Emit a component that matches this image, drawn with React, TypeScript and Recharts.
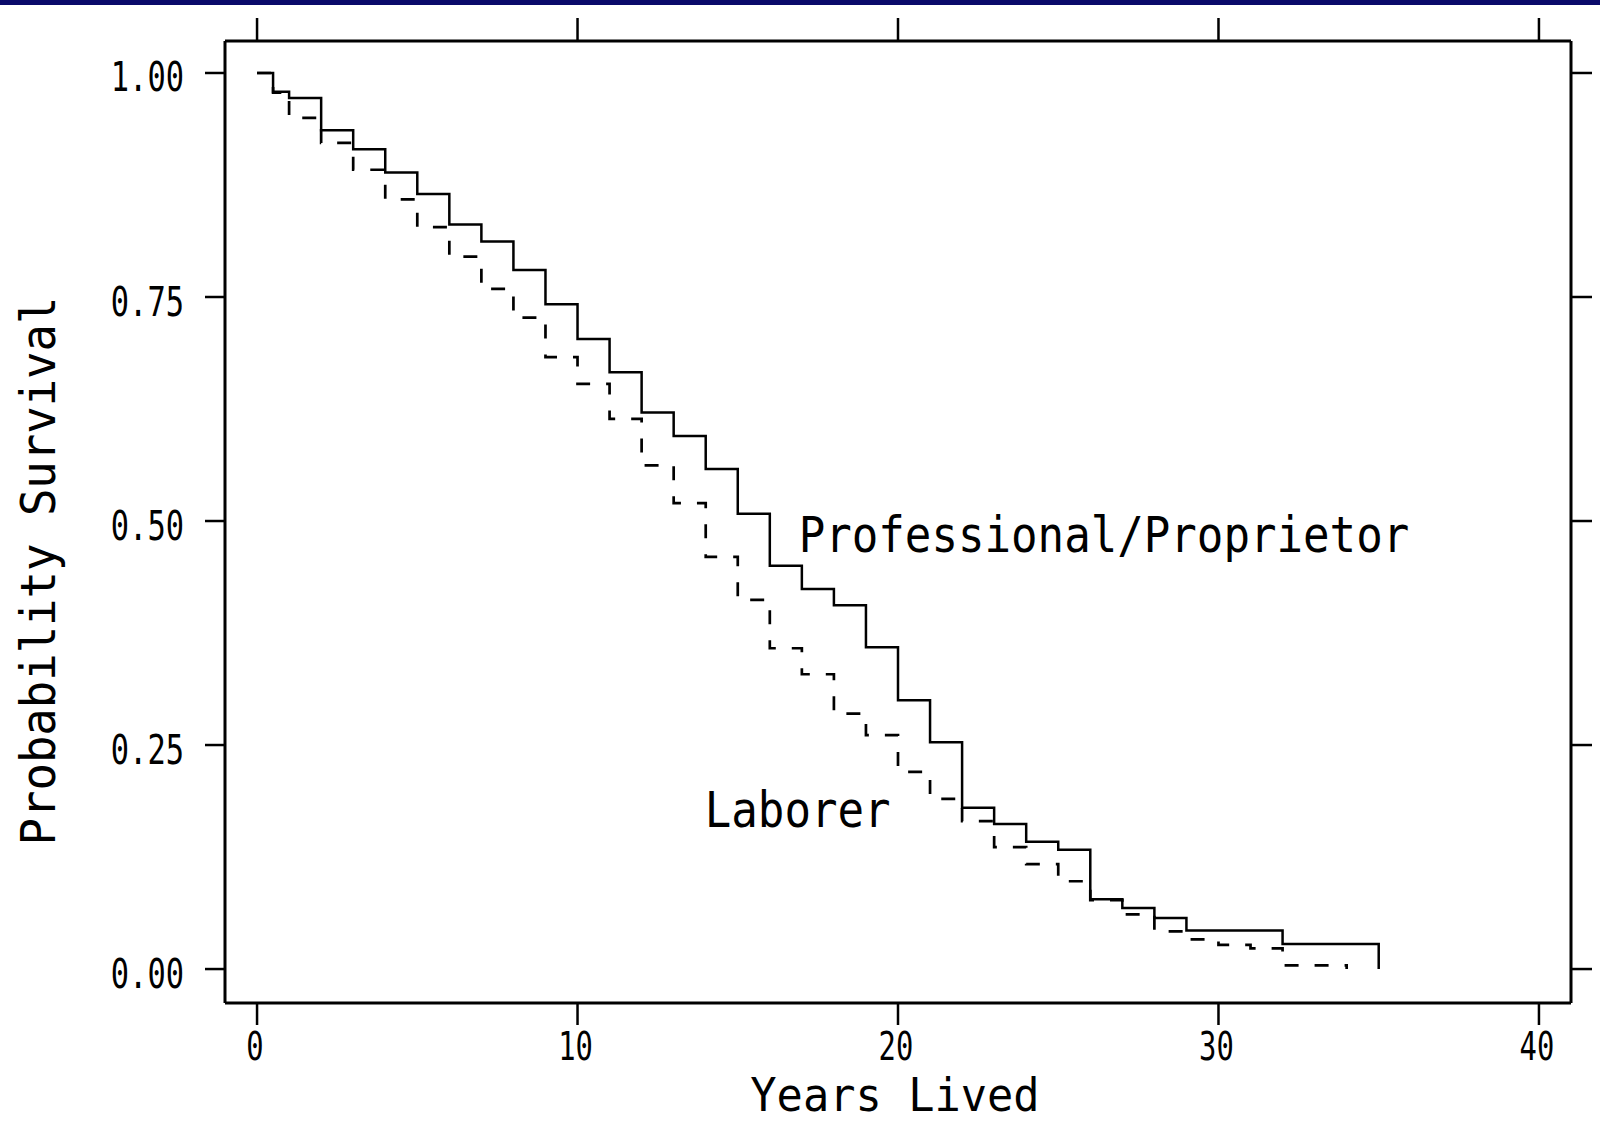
import React from 'react';
import { LineChart, Line, XAxis, YAxis, ReferenceDot } from 'recharts';

// Kaplan-Meier style survival estimates
const professionalYears = [0, 0.5, 1, 2, 3, 4, 5, 6, 7, 8, 9, 10, 11, 12, 13, 14, 15, 16, 17, 18, 19, 20, 21, 22, 23, 24, 25, 26, 27, 28, 29, 32, 35];
const professionalSurv = [1.0, 0.979, 0.972, 0.936, 0.915, 0.889, 0.865, 0.831, 0.812, 0.78, 0.742, 0.703, 0.666, 0.621, 0.595, 0.558, 0.508, 0.45, 0.424, 0.406, 0.359, 0.3, 0.253, 0.18, 0.162, 0.142, 0.133, 0.078, 0.068, 0.057, 0.043, 0.028, 0.0];

const laborerYears = [0, 0.5, 1, 2, 3, 4, 5, 6, 7, 8, 9, 10, 11, 12, 13, 14, 15, 16, 17, 18, 19, 20, 21, 22, 23, 24, 25, 26, 27, 28, 29, 30, 31, 32, 34];
const laborerSurv = [1.0, 0.978, 0.95, 0.922, 0.892, 0.859, 0.828, 0.795, 0.759, 0.727, 0.683, 0.653, 0.614, 0.562, 0.52, 0.46, 0.412, 0.358, 0.329, 0.285, 0.261, 0.22, 0.19, 0.165, 0.136, 0.117, 0.098, 0.077, 0.061, 0.042, 0.033, 0.027, 0.023, 0.004, 0.0];

const xTicks = [0, 10, 20, 30, 40];
const yTicks = [0, 0.25, 0.5, 0.75, 1.0];

const xTitle = 'Years Lived';
const yTitle = 'Probability Survival';
const professionalLabel = 'Professional/Proprietor';
const laborerLabel = 'Laborer';
const professionalLabelPos = { x: 16.9, y: 0.465 };
const laborerLabelPos = { x: 13.97, y: 0.158 };

const professionalData = professionalYears.map((x, i) => ({ x, y: professionalSurv[i] }));
const laborerData = laborerYears.map((x, i) => ({ x, y: laborerSurv[i] }));

const FONT = 'DejaVu Sans Mono';

const LeftTick = (props: any) => {
  const { x, y, payload } = props;
  return (
    <g transform={`translate(${x - 21},${y + 18.5}) scale(0.76,1)`}>
      <text x={0} y={0} textAnchor="end" fontFamily={FONT} fontSize={40} fill="#000">
        {Number(payload.value).toFixed(2)}
      </text>
    </g>
  );
};

const BottomTick = (props: any) => {
  const { x, y, payload } = props;
  return (
    <g transform={`translate(${x - 2},${y + 35}) scale(0.74,1)`}>
      <text x={0} y={0} textAnchor="middle" fontFamily={FONT} fontSize={39} fill="#000">
        {String(payload.value)}
      </text>
    </g>
  );
};

const NoTick = () => <g />;

const makeAnnot = (label: string) => (p: any) => (
  <g transform={`translate(${p.cx},${p.cy}) scale(0.9,1)`}>
    <text x={0} y={0} textAnchor="start" fontFamily={FONT} fontSize={49} fill="#000">
      {label}
    </text>
  </g>
);

const axisLine = { stroke: '#000', strokeWidth: 3 };
const tickLine = { stroke: '#000', strokeWidth: 2.5 };

export default function App() {
  return (
    <div style={{ position: 'absolute', left: 0, top: 0, width: 1600, height: 1123, overflow: 'hidden', background: '#fff' }}>
      <div style={{ position: 'absolute', left: 0, top: 0, width: 1600, height: 5, background: '#0a0a6a' }} />
      <LineChart width={1600} height={1123} margin={{ top: 0, right: 0, bottom: 0, left: 0 }}>
        <XAxis
          xAxisId="b"
          type="number"
          dataKey="x"
          orientation="bottom"
          domain={[-1, 41]}
          ticks={xTicks}
          allowDataOverflow
          height={120}
          axisLine={axisLine}
          tickLine={tickLine}
          tickSize={22}
          tickMargin={0}
          tick={<BottomTick />}
          interval={0}
        />
        <XAxis
          xAxisId="t"
          type="number"
          dataKey="x"
          orientation="top"
          domain={[-1, 41]}
          ticks={xTicks}
          allowDataOverflow
          height={41}
          axisLine={axisLine}
          tickLine={tickLine}
          tickSize={23}
          tickMargin={0}
          tick={<NoTick />}
          interval={0}
        />
        <YAxis
          yAxisId="l"
          type="number"
          orientation="left"
          domain={[-0.0379, 1.0357]}
          ticks={yTicks}
          allowDataOverflow
          width={225}
          axisLine={axisLine}
          tickLine={tickLine}
          tickSize={20}
          tickMargin={0}
          tick={<LeftTick />}
          interval={0}
        />
        <YAxis
          yAxisId="r"
          type="number"
          orientation="right"
          domain={[-0.0379, 1.0357]}
          ticks={yTicks}
          allowDataOverflow
          width={29}
          axisLine={axisLine}
          tickLine={tickLine}
          tickSize={21}
          tickMargin={0}
          tick={<NoTick />}
          interval={0}
        />
        <Line
          xAxisId="b"
          yAxisId="l"
          data={laborerData}
          dataKey="y"
          type="stepAfter"
          stroke="#000"
          strokeWidth={2.7}
          strokeDasharray="14 16"
          dot={false}
          activeDot={false}
          isAnimationActive={false}
        />
        <Line
          xAxisId="b"
          yAxisId="l"
          data={professionalData}
          dataKey="y"
          type="stepAfter"
          stroke="#000"
          strokeWidth={2.5}
          dot={false}
          activeDot={false}
          isAnimationActive={false}
        />
        <ReferenceDot
          xAxisId="b"
          yAxisId="l"
          x={professionalLabelPos.x}
          y={professionalLabelPos.y}
          r={0}
          shape={makeAnnot(professionalLabel)}
        />
        <ReferenceDot
          xAxisId="b"
          yAxisId="l"
          x={laborerLabelPos.x}
          y={laborerLabelPos.y}
          r={0}
          shape={makeAnnot(laborerLabel)}
        />
      </LineChart>
      <svg width={1600} height={1123} style={{ position: 'absolute', left: 0, top: 0, pointerEvents: 'none' }}>
        <g transform="translate(895,1111) scale(0.95,1)">
          <text x={0} y={0} textAnchor="middle" fontFamily={FONT} fontSize={46} fill="#000">{xTitle}</text>
        </g>
        <g transform="translate(55,571) rotate(-90) scale(0.95,1)">
          <text x={0} y={0} textAnchor="middle" fontFamily={FONT} fontSize={48} fill="#000">{yTitle}</text>
        </g>
      </svg>
    </div>
  );
}
